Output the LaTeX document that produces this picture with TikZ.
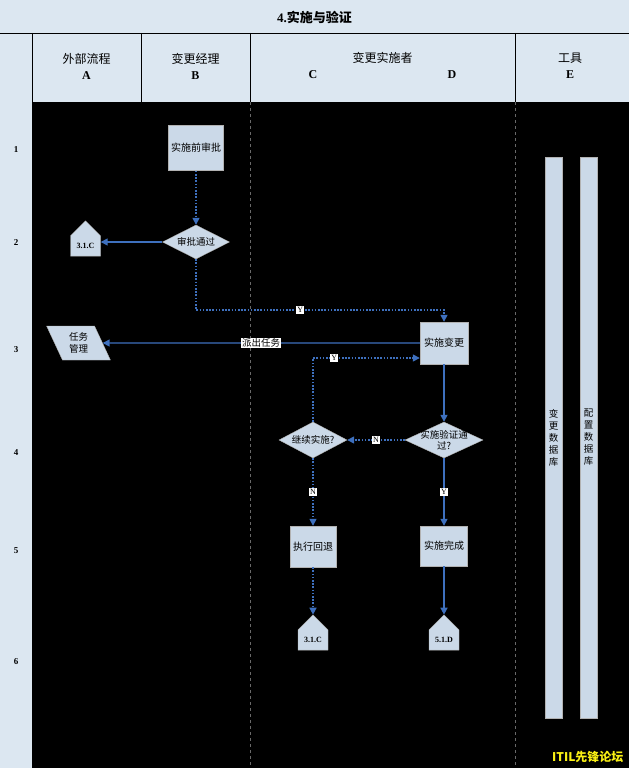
\documentclass[tikz,border=0pt]{standalone}
\usepackage{fontspec}
\setmainfont{Liberation Serif}
\newfontfamily\cjk{Noto Sans CJK SC}
\usetikzlibrary{shapes.geometric, shapes.symbols, arrows.meta, positioning, calc}
\definecolor{headbg}{RGB}{220, 231, 241}
\definecolor{boxfill}{RGB}{203, 217, 232}
\definecolor{flowblue}{RGB}{62, 112, 190}
\definecolor{lanegray}{RGB}{105, 105, 105}
\definecolor{markyellow}{RGB}{250, 240, 20}

\tikzset{
  stepbox/.style={draw=gray!60, fill=boxfill, minimum width=48pt, minimum height=42pt, inner sep=2pt, align=center, font=\cjk\fontsize{10}{12}\selectfont},
  decision/.style={diamond, draw=gray!60, fill=boxfill, inner sep=-6pt, minimum width=68pt, minimum height=36pt, align=center, font=\cjk\fontsize{9.5}{10.5}\selectfont},
  offpage/.style={signal, signal to=north, signal from=nowhere, draw=gray!60, fill=boxfill, minimum width=30pt, minimum height=30pt, inner sep=1pt, font=\fontsize{8}{9}\selectfont\bfseries},
  toolbar/.style={draw=gray!60, fill=boxfill, minimum width=17pt, minimum height=561pt, inner sep=0pt, align=center, font=\cjk\fontsize{9.5}{12}\selectfont},
  lanehead/.style={align=center, font=\fontsize{12}{16}\selectfont},
  rownum/.style={font=\fontsize{9}{10}\selectfont\bfseries},
  flow/.style={flowblue, line width=1.4pt, -{Triangle[length=7pt, width=7pt]}},
  flowdot/.style={flow, dash pattern=on 1.6pt off 1.6pt},
  tag/.style={fill=white, inner sep=1pt, text=black, font=\fontsize{8}{9}\selectfont},
}

\begin{document}
\begin{tikzpicture}[x=1pt, y=-1pt]
  \useasboundingbox (0,0) rectangle (629,768);
  % frame and lanes
  \fill[headbg] (0,0) rectangle (629,768);
  \fill[black] (32,102) rectangle (629,768);
  \draw[black, line width=0.8pt] (0,33) -- (629,33);
  \foreach \lx in {32, 141, 250, 515}
    \draw[black, line width=0.8pt] (\lx,33) -- (\lx,102);
  \foreach \lx in {250, 515}
    \draw[lanegray, dashed, line width=0.4pt] (\lx,102) -- (\lx,768);

  \node[font=\fontsize{13}{15}\selectfont\bfseries] (title) at (314.5,17) {4.{\cjk 实施与验证}};

  \node[lanehead] (laneA) at (86.5,66) {{\cjk 外部流程}\\\textbf{A}};
  \node[lanehead] (laneB) at (195.5,66) {{\cjk 变更经理}\\\textbf{B}};
  \node[lanehead] (laneCD) at (382.5,58) {\cjk 变更实施者};
  \node[lanehead, font=\fontsize{12}{14}\selectfont\bfseries] (laneC) at (313,75) {C};
  \node[lanehead, font=\fontsize{12}{14}\selectfont\bfseries] (laneD) at (452,75) {D};
  \node[lanehead] (laneE) at (570,66) {{\cjk 工具}\\\textbf{E}};

  % row numbers
  \foreach \rn/\ry in {1/150, 2/243, 3/350, 4/453, 5/551, 6/662}
    \node[rownum] (row\rn) at (16,\ry) {\rn};

  % process steps
  \node[stepbox, minimum width=55pt, minimum height=45pt] (preapp) at (196,148) {实施前审批};
  \node[decision, minimum width=67pt, minimum height=34pt] (approve) at (196,242) {审批通过};
  \node[offpage] (outA) at (85.5,246) {3.1.C};

  \node[draw=gray!60, fill=boxfill, trapezium, trapezium left angle=115, trapezium right angle=65,
        minimum width=44pt, minimum height=34pt, inner sep=1pt, align=center,
        font=\cjk\fontsize{9.5}{11.5}\selectfont] (task) at (78.5,343) {任务\\管理};
  \node[stepbox] (implement) at (444,343) {实施变更};

  \node[decision, minimum width=78pt, inner sep=-8pt] (verify) at (444,440) {实施验证通\\过?};
  \node[decision] (goon) at (313,440) {继续实施?};

  \node[stepbox, minimum width=46pt, minimum height=41pt] (rollback) at (313,546.5) {执行回退};
  \node[stepbox, minimum width=47pt, minimum height=40pt] (finish) at (444,546) {实施完成};

  \node[offpage] (outC) at (313,640) {3.1.C};
  \node[offpage] (outD) at (444,640) {5.1.D};

  % tools
  \node[toolbar] (chgdb) at (553.5,437.5) {变\\更\\数\\据\\库};
  \node[toolbar] (cfgdb) at (588.5,437.5) {配\\置\\数\\据\\库};

  % connectors
  \coordinate (yturn) at (196,310);
  \draw[flowdot] (preapp) -- (approve);
  \draw[flow] (approve.west) -- (outA.east |- approve.west);
  \draw[flowdot] (approve.south) -- (yturn) -| node[tag, pos=0.21] {Y} (implement.north);
  \draw[flow] (implement.west) -- node[tag, font=\cjk\fontsize{9.5}{10.5}\selectfont] {派出任务} (task.east);
  \draw[flow] (implement) -- (verify);
  \draw[flowdot] (verify.west) -- node[tag] {N} (goon.east);
  \draw[flowdot] (goon.north) |- node[tag, pos=0.6] {Y} ([yshift=-15pt]implement.west);
  \draw[flowdot] (goon.south) -- node[tag] {N} (rollback.north);
  \draw[flow] (verify.south) -- node[tag] {Y} (finish.north);
  \draw[flowdot] (rollback) -- (outC.north);
  \draw[flow] (finish) -- (outD.north);

  \node[text=markyellow, font=\cjk\bfseries\fontsize{12}{14}\selectfont, anchor=south east] (mark) at (627,766) {ITIL先锋论坛};
\end{tikzpicture}
\end{document}
